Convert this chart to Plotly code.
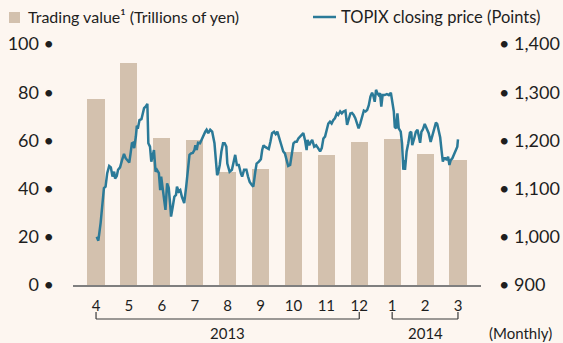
import plotly.graph_objects as go

# Monthly trading value (trillions of yen), April 2013 – March 2014
months = ["4", "5", "6", "7", "8", "9", "10", "11", "12", "1", "2", "3"]
trading_value = [77, 92, 61, 60, 47, 48, 55, 54, 59.5, 60.5, 54.5, 52]

# TOPIX closing price: position along the month axis and closing level (points)
topix_month = [
    0.02, 0.07, 0.14, 0.22, 0.24, 0.29, 0.34, 0.40, 0.45, 0.50, 0.55, 0.58, 0.63, 0.67,
    0.73, 0.79, 0.85, 0.90, 0.95, 1.01, 1.05, 1.09, 1.12, 1.16, 1.21, 1.24, 1.28, 1.32,
    1.38, 1.42, 1.46, 1.52, 1.56, 1.59, 1.64, 1.68, 1.72, 1.76, 1.81, 1.85, 1.91, 1.95,
    1.98, 2.03, 2.08, 2.11, 2.16, 2.21, 2.25, 2.28, 2.33, 2.38, 2.43, 2.46, 2.51, 2.56,
    2.61, 2.68, 2.74, 2.79, 2.84, 2.89, 2.94, 2.99, 3.02, 3.06, 3.10, 3.16, 3.22, 3.27,
    3.32, 3.36, 3.41, 3.47, 3.53, 3.60, 3.68, 3.71, 3.76, 3.81, 3.86, 3.91, 3.96, 3.99,
    4.06, 4.13, 4.19, 4.23, 4.28, 4.34, 4.40, 4.44, 4.50, 4.57, 4.62, 4.67, 4.74, 4.78,
    4.84, 4.88, 4.95, 5.01, 5.05, 5.09, 5.13, 5.19, 5.25, 5.30, 5.35, 5.41, 5.46, 5.51,
    5.57, 5.64, 5.69, 5.74, 5.80, 5.84, 5.90, 5.95, 6.00, 6.05, 6.10, 6.15, 6.20, 6.25,
    6.30, 6.35, 6.40, 6.43, 6.48, 6.53, 6.57, 6.63, 6.69, 6.75, 6.81, 6.86, 6.91, 6.96,
    7.01, 7.06, 7.11, 7.16, 7.21, 7.26, 7.32, 7.36, 7.42, 7.47, 7.52, 7.58, 7.63, 7.68,
    7.73, 7.78, 7.83, 7.88, 7.93, 7.98, 8.03, 8.09, 8.14, 8.19, 8.24, 8.29, 8.34, 8.39,
    8.43, 8.47, 8.51, 8.55, 8.59, 8.63, 8.67, 8.71, 8.77, 8.84, 8.90, 8.96, 9.00, 9.05,
    9.08, 9.12, 9.16, 9.20, 9.26, 9.30, 9.34, 9.36, 9.39, 9.44, 9.49, 9.54, 9.58, 9.61,
    9.67, 9.72, 9.77, 9.82, 9.85, 9.89, 9.93, 9.99, 10.05, 10.11, 10.17, 10.22, 10.27,
    10.33, 10.37, 10.42, 10.46, 10.50, 10.54, 10.58, 10.62, 10.66, 10.70, 10.74, 10.78,
    10.83, 10.88, 10.93, 10.98, 11.00,
]
topix_close = [
    1000, 992, 1029, 1076, 1101, 1104, 1132, 1147, 1144, 1125, 1135, 1121, 1126, 1139,
    1144, 1159, 1172, 1163, 1159, 1154, 1173, 1194, 1195, 1184, 1208, 1230, 1228, 1242,
    1244, 1253, 1267, 1271, 1276, 1194, 1187, 1156, 1170, 1180, 1135, 1139, 1132, 1097,
    1125, 1094, 1062, 1056, 1111, 1101, 1070, 1042, 1062, 1083, 1087, 1104, 1094, 1097,
    1083, 1070, 1104, 1139, 1170, 1173, 1174, 1180, 1190, 1180, 1195, 1194, 1204, 1211,
    1218, 1222, 1215, 1222, 1218, 1194, 1128, 1132, 1149, 1177, 1194, 1194, 1187, 1152,
    1135, 1139, 1163, 1170, 1149, 1149, 1132, 1125, 1139, 1139, 1125, 1114, 1107, 1104,
    1135, 1152, 1156, 1161, 1180, 1190, 1187, 1184, 1182, 1197, 1215, 1218, 1213, 1218,
    1204, 1190, 1177, 1173, 1159, 1147, 1149, 1170, 1194, 1197, 1197, 1204, 1208, 1211,
    1215, 1201, 1180, 1201, 1190, 1197, 1201, 1187, 1190, 1184, 1177, 1184, 1204, 1208,
    1225, 1235, 1239, 1235, 1242, 1246, 1256, 1253, 1260, 1256, 1260, 1262, 1232, 1242,
    1256, 1257, 1253, 1246, 1235, 1225, 1235, 1249, 1262, 1260, 1263, 1273, 1291, 1299,
    1292, 1280, 1305, 1298, 1294, 1298, 1270, 1294, 1294, 1296, 1294, 1299, 1284, 1260,
    1228, 1225, 1256, 1225, 1218, 1194, 1139, 1159, 1139, 1177, 1194, 1216, 1218, 1190,
    1204, 1218, 1222, 1201, 1195, 1218, 1222, 1234, 1225, 1215, 1197, 1208, 1222,
    1237, 1234, 1218, 1206, 1180, 1156, 1163, 1163, 1159, 1166, 1149, 1159,
    1163, 1170, 1177, 1187, 1202,
]

left_ticks = [0, 20, 40, 60, 80, 100]
right_ticks = [900, 1000, 1100, 1200, 1300, 1400]

BG = "#fdf6f0"
BAR = "#d3c1ae"
LINE = "#2b7a98"
INK = "#1e1e1e"
FONT = "Lato"

W, H = 563, 343
ML, MR, MT, MB = 73, 82, 44, 58
PW, PH = W - ML - MR, H - MT - MB


def px(x):
    return (x - ML) / PW


def py(y):
    return (H - MB - y) / PH


fig = go.Figure()
fig.add_trace(go.Bar(
    x=list(range(len(months))), y=trading_value, marker_color=BAR,
    marker_line_width=0, width=0.52, yaxis="y", name="Trading value",
))
fig.add_trace(go.Scatter(
    x=topix_month, y=topix_close, mode="lines", yaxis="y2",
    line=dict(color=LINE, width=2.5), name="TOPIX",
))

shapes = []
# legend swatches
shapes.append(dict(type="rect", xref="paper", yref="paper",
                   x0=px(9), x1=px(20), y0=py(23), y1=py(12),
                   fillcolor=BAR, line_width=0))
shapes.append(dict(type="line", xref="paper", yref="paper",
                   x0=px(313), x1=px(336), y0=py(17), y1=py(17),
                   line=dict(color=LINE, width=2.5)))
# year brackets under the month labels
for a, b in [(0, 8), (9, 11)]:
    for x0, x1, y0, y1 in [(a, a, 312, 319), (a, b, 319, 319), (b, b, 312, 319)]:
        shapes.append(dict(type="line", xref="x", yref="paper",
                           x0=x0, x1=x1, y0=py(y0), y1=py(y1),
                           line=dict(color="#3a3a3a", width=1.2)))

annotations = [
    dict(text="Trading value\u00b9 (Trillions of yen)", xref="paper", yref="paper",
         x=px(26), y=py(17), xanchor="left", yanchor="middle", showarrow=False,
         font=dict(size=16, color=INK)),
    dict(text="TOPIX closing price (Points)", xref="paper", yref="paper",
         x=px(339), y=py(17), xanchor="left", yanchor="middle", showarrow=False,
         font=dict(size=16.5, color=INK)),
    dict(text="2013", xref="x", yref="paper", x=4, y=py(333), xanchor="center",
         yanchor="middle", showarrow=False, font=dict(size=15, color=INK)),
    dict(text="2014", xref="x", yref="paper", x=10, y=py(333), xanchor="center",
         yanchor="middle", showarrow=False, font=dict(size=15, color=INK)),
    dict(text="(Monthly)", xref="paper", yref="paper", x=px(520), y=py(333),
         xanchor="center", yanchor="middle", showarrow=False,
         font=dict(size=15, color=INK)),
]

fig.update_layout(
    width=W, height=H,
    margin=dict(l=ML, r=MR, t=MT, b=MB, pad=0, autoexpand=False),
    paper_bgcolor=BG, plot_bgcolor=BG,
    font=dict(family=FONT, color=INK),
    showlegend=False,
    bargap=0,
    xaxis=dict(
        range=[-0.7, 11.7], tickmode="array",
        tickvals=list(range(len(months))), ticktext=months,
        showgrid=False, zeroline=False, showline=True,
        linecolor="#7f7f7f", linewidth=1.5, ticks="",
        tickfont=dict(size=15, color=INK), ticklabelstandoff=6,
        automargin=False,
    ),
    yaxis=dict(
        range=[0, 100], tickmode="array", tickvals=left_ticks,
        ticktext=[f"{v} \u2022" for v in left_ticks],
        showgrid=False, zeroline=False, showline=False, ticks="",
        tickfont=dict(size=18, color=INK), ticklabelstandoff=18,
        automargin=False,
    ),
    yaxis2=dict(
        range=[900, 1400], overlaying="y", side="right", tickmode="array",
        tickvals=right_ticks, ticktext=[f"\u2022 {v:,}" for v in right_ticks],
        showgrid=False, zeroline=False, showline=False, ticks="",
        tickfont=dict(size=18, color=INK), ticklabelstandoff=17,
        automargin=False,
    ),
    shapes=shapes,
    annotations=annotations,
)

fig.write_html("out.html")
